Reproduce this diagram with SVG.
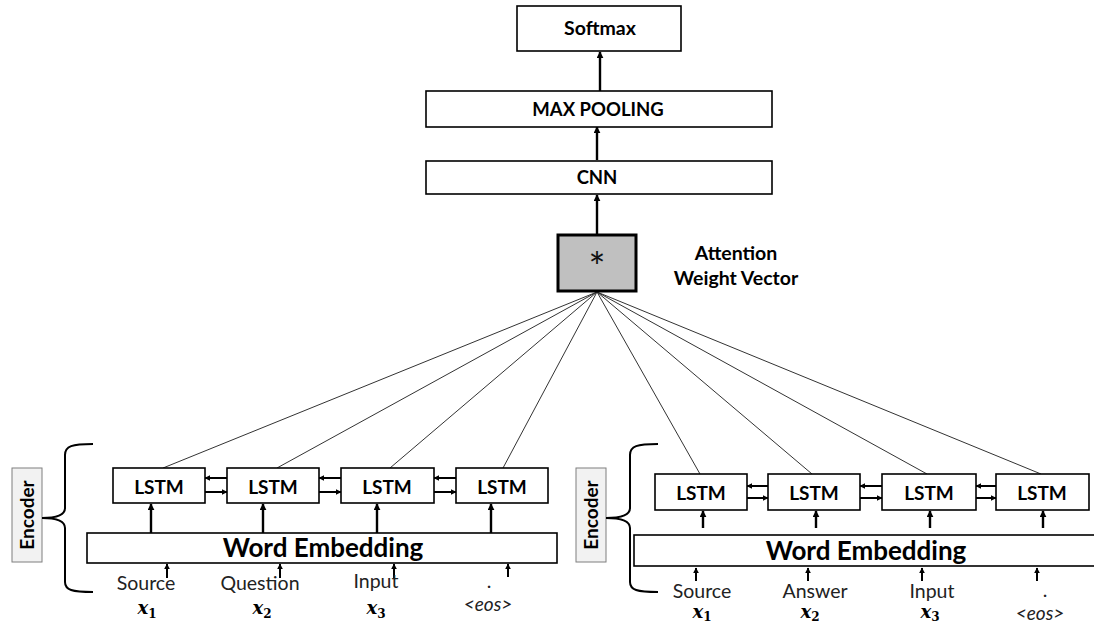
<svg xmlns="http://www.w3.org/2000/svg" width="1094" height="625" viewBox="0 0 1094 625">
<style>
.box{fill:#fff;stroke:#000;stroke-width:1.6}
.b{font-family:Lato,"Open Sans",sans-serif;font-weight:bold;fill:#000;text-anchor:middle}
.n{font-family:Lato,"Open Sans",sans-serif;fill:#222;text-anchor:middle;font-size:19.5px}
.e{font-family:Lato,"Open Sans",sans-serif;fill:#222;text-anchor:middle;font-size:19px;font-style:italic}
.m{font-family:"DejaVu Serif",serif;font-style:italic;font-weight:bold;fill:#000;text-anchor:middle;font-size:18px}
.sub{font-style:normal;font-size:12px}
.att{stroke:#333;stroke-width:1;fill:none}
.arr{stroke:#000;stroke-width:2.4;fill:none;marker-end:url(#ah)}
.arrs{stroke:#000;stroke-width:2;fill:none;marker-end:url(#ahs)}
.brace{stroke:#000;stroke-width:2;fill:none}
</style>
<defs>
<marker id="ah" viewBox="0 0 10 10" refX="9" refY="5" markerWidth="7" markerHeight="7" markerUnits="userSpaceOnUse" orient="auto"><path d="M0,0 L10,5 L0,10 z" fill="#000"/></marker>
<marker id="ahs" viewBox="0 0 10 10" refX="9" refY="5" markerWidth="6" markerHeight="6" markerUnits="userSpaceOnUse" orient="auto"><path d="M0,0 L10,5 L0,10 z" fill="#000"/></marker>
</defs>

<g id="connectors">
  <g class="att">
    <line x1="597" y1="292" x2="163" y2="468"/>
    <line x1="597" y1="292" x2="277" y2="468"/>
    <line x1="597" y1="292" x2="390" y2="468"/>
    <line x1="597" y1="292" x2="503" y2="468"/>
    <line x1="597" y1="292" x2="700" y2="474"/>
    <line x1="597" y1="292" x2="812" y2="474"/>
    <line x1="597" y1="292" x2="927" y2="474"/>
    <line x1="597" y1="292" x2="1041" y2="474"/>
  </g>
  <line class="arr" x1="600" y1="91" x2="600" y2="52"/>
  <line class="arr" x1="597" y1="160" x2="597" y2="127"/>
  <line class="arr" x1="597" y1="234" x2="597" y2="195"/>
  <line class="arr" x1="151" y1="533" x2="151" y2="504"/>
  <line class="arr" x1="263" y1="533" x2="263" y2="504"/>
  <line class="arr" x1="377" y1="533" x2="377" y2="504"/>
  <line class="arr" x1="491" y1="533" x2="491" y2="504"/>
  <line class="arr" x1="703" y1="528" x2="703" y2="511"/>
  <line class="arr" x1="816" y1="528" x2="816" y2="511"/>
  <line class="arr" x1="930" y1="528" x2="930" y2="511"/>
  <line class="arr" x1="1043" y1="528" x2="1043" y2="511"/>
  <line class="arrs" x1="227" y1="478" x2="205" y2="478"/>
  <line class="arrs" x1="205" y1="492" x2="227" y2="492"/>
  <line class="arrs" x1="341" y1="478" x2="319" y2="478"/>
  <line class="arrs" x1="319" y1="492" x2="341" y2="492"/>
  <line class="arrs" x1="456" y1="478" x2="434" y2="478"/>
  <line class="arrs" x1="434" y1="492" x2="456" y2="492"/>
  <line class="arrs" x1="768" y1="486" x2="747" y2="486"/>
  <line class="arrs" x1="747" y1="498" x2="768" y2="498"/>
  <line class="arrs" x1="882" y1="486" x2="860" y2="486"/>
  <line class="arrs" x1="860" y1="498" x2="882" y2="498"/>
  <line class="arrs" x1="996" y1="486" x2="976" y2="486"/>
  <line class="arrs" x1="976" y1="498" x2="996" y2="498"/>
  <line class="arrs" x1="167" y1="578" x2="167" y2="564"/>
  <line class="arrs" x1="280" y1="578" x2="280" y2="564"/>
  <line class="arrs" x1="394" y1="578" x2="394" y2="564"/>
  <line class="arrs" x1="508" y1="577" x2="508" y2="564"/>
  <line class="arrs" x1="696" y1="581" x2="696" y2="568"/>
  <line class="arrs" x1="808" y1="581" x2="808" y2="568"/>
  <line class="arrs" x1="922" y1="581" x2="922" y2="568"/>
  <line class="arrs" x1="1037" y1="581" x2="1037" y2="568"/>
</g>

<g id="softmax">
  <rect class="box" x="517" y="6" width="164" height="45"/>
  <text class="b" x="600" y="35" font-size="19.5">Softmax</text>
</g>
<g id="maxpooling">
  <rect class="box" x="426" y="91" width="346" height="36"/>
  <text class="b" x="598" y="116" font-size="18.5">MAX POOLING</text>
</g>
<g id="cnn">
  <rect class="box" x="426" y="161" width="346" height="33"/>
  <text class="b" x="597" y="184" font-size="18.5">CNN</text>
</g>
<g id="attention">
  <rect x="558" y="235" width="78" height="56" fill="#c0c0c0" stroke="#000" stroke-width="3"/>
  <text x="597" y="282" font-family="Lato,'Open Sans',sans-serif" font-size="40" text-anchor="middle" fill="#111">*</text>
  <text class="b" x="736" y="260" font-size="19.5">Attention</text>
  <text class="b" x="736" y="285" font-size="19.5">Weight Vector</text>
</g>

<g id="encoder-left">
  <rect x="12" y="468" width="30" height="94" fill="#f2f2f2" stroke="#7f7f7f" stroke-width="1"/>
  <text class="b" font-size="19" transform="translate(33.5,515) rotate(-90)">Encoder</text>
  <path class="brace" d="M93,444 C72,444 65,446 65,455 L65,508 C65,515 56,518 42,518 C56,518 65,521 65,528 L65,582 C65,590 72,592 93,592"/>
</g>
<g id="lstm-l1"><rect class="box" x="113" y="468" width="92" height="35"/><text class="b" x="159" y="494" font-size="19">LSTM</text></g>
<g id="lstm-l2"><rect class="box" x="227" y="468" width="92" height="35"/><text class="b" x="273" y="494" font-size="19">LSTM</text></g>
<g id="lstm-l3"><rect class="box" x="341" y="468" width="93" height="35"/><text class="b" x="387" y="494" font-size="19">LSTM</text></g>
<g id="lstm-l4"><rect class="box" x="456" y="468" width="92" height="35"/><text class="b" x="502" y="494" font-size="19">LSTM</text></g>
<g id="we-left">
  <rect class="box" x="87" y="533" width="470" height="30"/>
  <text class="b" x="323" y="557" font-size="26">Word Embedding</text>
</g>
<g id="inputs-left">
  <text class="n" x="146" y="590">Source</text>
  <text class="n" x="260" y="590">Question</text>
  <text class="n" x="376" y="588">Input</text>
  <text class="n" x="489" y="588">.</text>
  <text class="e" x="488" y="611">&lt;eos&gt;</text>
  <text class="m" x="147" y="614">x<tspan class="sub" dy="4">1</tspan></text>
  <text class="m" x="262" y="614">x<tspan class="sub" dy="4">2</tspan></text>
  <text class="m" x="376" y="614">x<tspan class="sub" dy="4">3</tspan></text>
</g>

<g id="encoder-right">
  <rect x="576" y="468" width="30" height="94" fill="#f2f2f2" stroke="#7f7f7f" stroke-width="1"/>
  <text class="b" font-size="19" transform="translate(597.5,515) rotate(-90)">Encoder</text>
  <path class="brace" d="M658,444 C637,444 630,446 630,455 L630,508 C630,515 621,518 606,518 C621,518 630,521 630,528 L630,582 C630,590 637,592 658,592"/>
</g>
<g id="lstm-r1"><rect class="box" x="655" y="474" width="92" height="36"/><text class="b" x="701" y="500" font-size="19">LSTM</text></g>
<g id="lstm-r2"><rect class="box" x="768" y="474" width="92" height="36"/><text class="b" x="814" y="500" font-size="19">LSTM</text></g>
<g id="lstm-r3"><rect class="box" x="882" y="474" width="94" height="36"/><text class="b" x="929" y="500" font-size="19">LSTM</text></g>
<g id="lstm-r4"><rect class="box" x="996" y="474" width="93" height="36"/><text class="b" x="1042" y="500" font-size="19">LSTM</text></g>
<g id="we-right">
  <rect class="box" x="634" y="535" width="480" height="31"/>
  <text class="b" x="866" y="560" font-size="26">Word Embedding</text>
</g>
<g id="inputs-right">
  <text class="n" x="702" y="598">Source</text>
  <text class="n" x="815" y="598">Answer</text>
  <text class="n" x="932" y="598">Input</text>
  <text class="n" x="1045" y="597">.</text>
  <text class="e" x="1040" y="620">&lt;eos&gt;</text>
  <text class="m" x="702" y="618">x<tspan class="sub" dy="3">1</tspan></text>
  <text class="m" x="810" y="618">x<tspan class="sub" dy="3">2</tspan></text>
  <text class="m" x="930" y="618">x<tspan class="sub" dy="3">3</tspan></text>
</g>
</svg>
